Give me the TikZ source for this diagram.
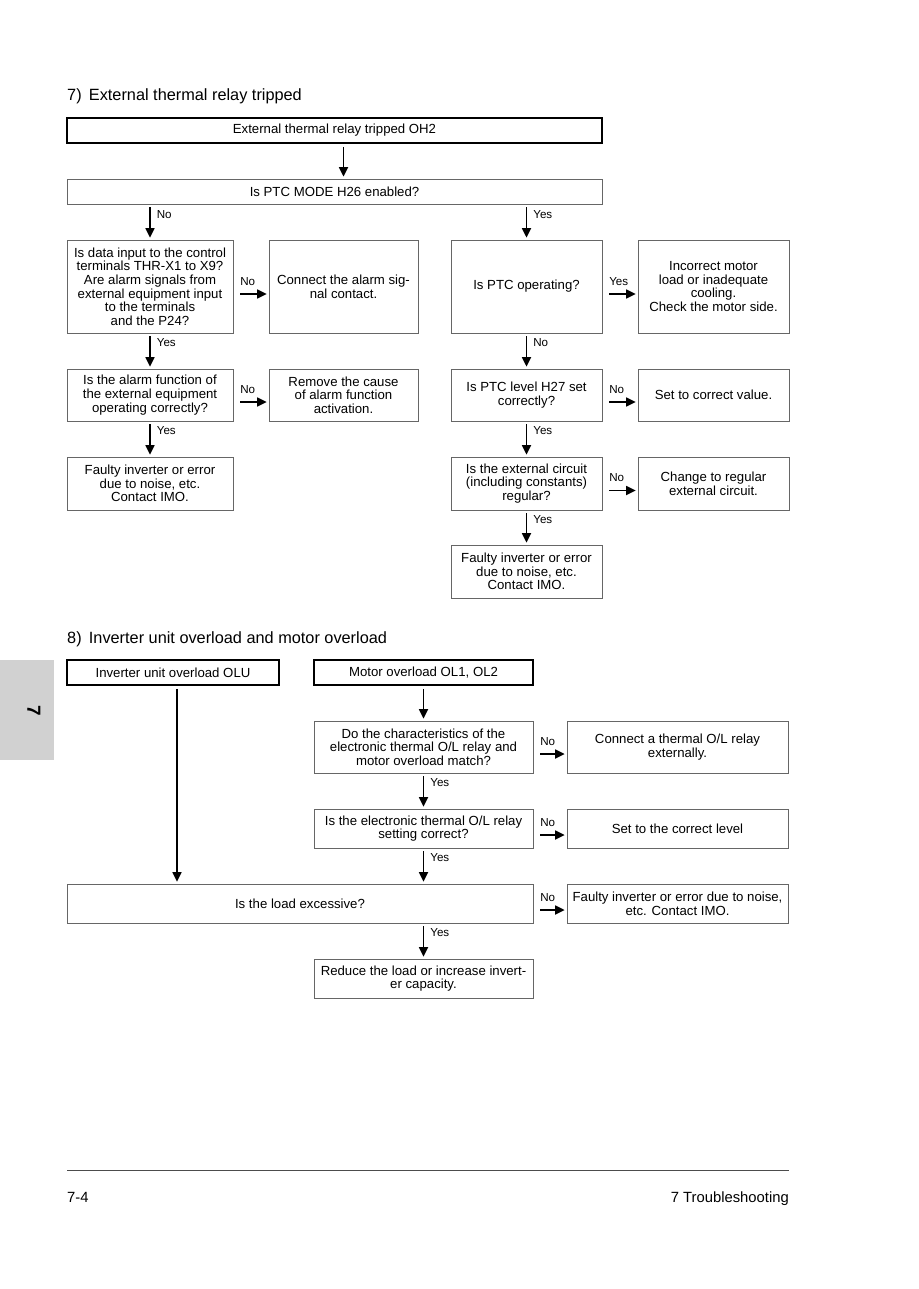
\documentclass[tikz,border=0pt]{standalone}
\usepackage{fontspec}
\setmainfont{Liberation Sans}
\usetikzlibrary{arrows.meta}
\begin{document}
\begin{tikzpicture}[x=1pt,y=-1pt,
  box/.style={draw=black!60, line width=0.8pt, inner sep=0pt, align=center,
    font=\fontsize{13.2}{13.6}\selectfont},
  tbox/.style={box, draw=black, line width=1.6pt},
  arr/.style={line width=1.7pt, -{Triangle[length=9.5pt,width=9pt]}},
  varr/.style={arr, shorten <=3pt, shorten >=2pt},
  harr/.style={arr, shorten <=7pt, shorten >=2pt},
  lbl/.style={font=\fontsize{11.6}{12}\selectfont, inner sep=0pt},
  ttl/.style={font=\fontsize{16.3}{18}\selectfont, inner sep=0pt, anchor=base west}]
\useasboundingbox (0,0) rectangle (918,1289);

% side tab
\fill[black!18] (0,660) rectangle (54,760);
\node[font=\bfseries\fontsize{19}{20}\selectfont, rotate=-90, inner sep=0pt] (tab7) at (34,711) {7};

% ===== Section 7 =====
\node[ttl] (t7) at (67,101) {7)\ \,External thermal relay tripped};

\node[tbox, minimum width=535pt, minimum height=25pt] (A) at (334.5,130.5) {External thermal relay tripped OH2};
\node[box, minimum width=535pt, minimum height=25pt] (B) at (334.5,191.5) {Is PTC MODE H26 enabled?};
\draw[varr] ([xshift=9pt]A.south) -- ([xshift=9pt]A.south |- B.north);

% left column
\node[box, minimum width=166pt, minimum height=93pt] (C1) at (150,286.5)
 {Is data input to the control\\terminals THR-X1 to X9?\\Are alarm signals from\\external equipment input\\to the terminals\\and the P24?};
\node[box, minimum width=149pt, minimum height=93pt] (C2) at (343.5,286.5)
 {Connect the alarm sig-\\nal contact.};
\node[box, minimum width=166pt, minimum height=52pt] (D1) at (150,395)
 {Is the alarm function of\\the external equipment\\operating correctly?};
\node[box, minimum width=149pt, minimum height=52pt] (D2) at (343.5,395)
 {Remove the cause\\of alarm function\\activation.};
\node[box, minimum width=166pt, minimum height=53pt] (E1) at (150,483.5)
 {Faulty inverter or error\\due to noise, etc.\\Contact IMO.};

% right column
\node[box, minimum width=151pt, minimum height=93pt] (R1) at (526.5,286.5) {Is PTC operating?};
\node[box, minimum width=151pt, minimum height=93pt] (R1b) at (713.5,286.5)
 {Incorrect motor\\load or inadequate\\cooling.\\Check the motor side.};
\node[box, minimum width=151pt, minimum height=52pt] (R2) at (526.5,395)
 {Is PTC level H27 set\\correctly?};
\node[box, minimum width=151pt, minimum height=52pt] (R2b) at (713.5,395) {Set to correct value.};
\node[box, minimum width=151pt, minimum height=53pt] (R3) at (526.5,483.5)
 {Is the external circuit\\(including constants)\\regular?};
\node[box, minimum width=151pt, minimum height=53pt] (R3b) at (713.5,483.5)
 {Change to regular\\external circuit.};
\node[box, minimum width=151pt, minimum height=53pt] (R4) at (526.5,571.5)
 {Faulty inverter or error\\due to noise, etc.\\Contact IMO.};

% section 7 arrows
\draw[varr] (B.south -| C1) -- (C1.north) node[lbl, pos=0, anchor=north west, xshift=6pt, yshift=-5pt] {No};
\draw[varr] (B.south -| R1) -- (R1.north) node[lbl, pos=0, anchor=north west, xshift=6pt, yshift=-5pt] {Yes};
\draw[varr] (C1.south) -- (D1.north) node[lbl, pos=0, anchor=north west, xshift=6pt, yshift=-4pt] {Yes};
\draw[varr] (D1.south) -- (E1.north) node[lbl, pos=0, anchor=north west, xshift=6pt, yshift=-4pt] {Yes};
\draw[varr] (R1.south) -- (R2.north) node[lbl, pos=0, anchor=north west, xshift=6pt, yshift=-4pt] {No};
\draw[varr] (R2.south) -- (R3.north) node[lbl, pos=0, anchor=north west, xshift=6pt, yshift=-4pt] {Yes};
\draw[varr] (R3.south) -- (R4.north) node[lbl, pos=0, anchor=north west, xshift=6pt, yshift=-4pt] {Yes};

\draw[harr] ([yshift=-7.5pt]C1.east) -- ([yshift=-7.5pt]C2.west) node[lbl, pos=0, anchor=south west, xshift=6pt, yshift=8pt] {No};
\draw[harr] ([yshift=-7pt]D1.east) -- ([yshift=-7pt]D2.west) node[lbl, pos=0, anchor=south west, xshift=6pt, yshift=8pt] {No};
\draw[harr] ([yshift=-7.5pt]R1.east) -- ([yshift=-7.5pt]R1b.west) node[lbl, pos=0, anchor=south west, xshift=6pt, yshift=8pt] {Yes};
\draw[harr] ([yshift=-7pt]R2.east) -- ([yshift=-7pt]R2b.west) node[lbl, pos=0, anchor=south west, xshift=6pt, yshift=8pt] {No};
\draw[harr] ([yshift=-7pt]R3.east) -- ([yshift=-7pt]R3b.west) node[lbl, pos=0, anchor=south west, xshift=6pt, yshift=8pt] {No};

% ===== Section 8 =====
\node[ttl] (t8) at (67,643) {8)\ \,Inverter unit overload and motor overload};

\node[tbox, minimum width=212pt, minimum height=25pt] (F1) at (173,672.5) {Inverter unit overload OLU};
\node[tbox, minimum width=219pt, minimum height=25pt] (F2) at (423.5,672.5) {Motor overload OL1, OL2};

\node[box, minimum width=219pt, minimum height=52pt] (M1) at (423.5,747)
 {Do the characteristics of the\\electronic thermal O/L relay and\\motor overload match?};
\node[box, minimum width=221pt, minimum height=52pt] (M1b) at (677.5,747)
 {Connect a thermal O/L relay\\externally.};
\node[box, minimum width=219pt, minimum height=39pt] (M2) at (423.5,828.5)
 {Is the electronic thermal O/L relay\\setting correct?};
\node[box, minimum width=221pt, minimum height=39pt] (M2b) at (677.5,828.5) {Set to the correct level};
\node[box, minimum width=466pt, minimum height=39pt] (G) at (300,903.5) {Is the load excessive?};
\node[box, minimum width=221pt, minimum height=39pt] (Gb) at (677.5,903.5)
 {Faulty inverter or error due to noise,\\etc. Contact IMO.};
\node[box, minimum width=219pt, minimum height=39pt] (H) at (423.5,978.5)
 {Reduce the load or increase invert-\\er capacity.};

\draw[varr] ([xshift=4pt]F1.south) -- ([xshift=4pt]F1.south |- G.north);
\draw[varr] (F2.south) -- (M1.north);
\draw[varr] (M1.south) -- (M2.north) node[lbl, pos=0, anchor=north west, xshift=6pt, yshift=-4pt] {Yes};
\draw[varr] (M2.south) -- (M2.south |- G.north) node[lbl, pos=0, anchor=north west, xshift=6pt, yshift=-4pt] {Yes};
\draw[varr] (G.south -| H) -- (H.north) node[lbl, pos=0, anchor=north west, xshift=6pt, yshift=-4pt] {Yes};

\draw[harr] ([yshift=-7pt]M1.east) -- ([yshift=-7pt]M1b.west) node[lbl, pos=0, anchor=south west, xshift=6pt, yshift=8pt] {No};
\draw[harr] ([yshift=-6.5pt]M2.east) -- ([yshift=-6.5pt]M2b.west) node[lbl, pos=0, anchor=south west, xshift=6pt, yshift=8pt] {No};
\draw[harr] ([yshift=-6.5pt]G.east) -- ([yshift=-6.5pt]Gb.west) node[lbl, pos=0, anchor=south west, xshift=6pt, yshift=8pt] {No};

% footer
\draw[black!70, line width=0.8pt] (67,1170) -- (789,1170);
\node[font=\fontsize{14.8}{16}\selectfont, inner sep=0pt, anchor=base west] (pg) at (67,1202) {7-4};
\node[font=\fontsize{14.8}{16}\selectfont, inner sep=0pt, anchor=base east] (ch) at (789,1202) {7 Troubleshooting};
\end{tikzpicture}
\end{document}
